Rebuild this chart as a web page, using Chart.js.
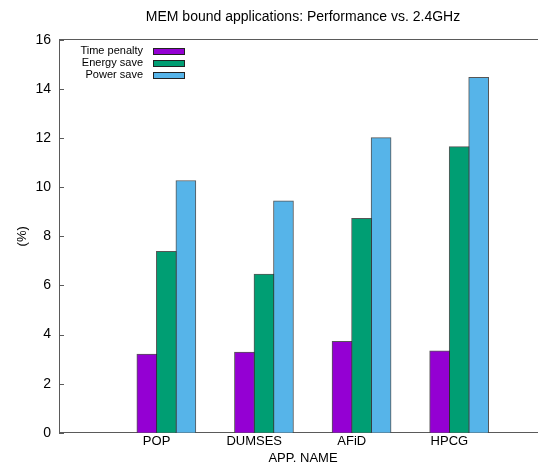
<!DOCTYPE html>
<html>
<head>
<meta charset="utf-8">
<script src="https://cdn.jsdelivr.net/npm/chart.js"></script>
<style>
html, body { margin: 0; padding: 0; background: #fff; overflow: hidden; }
#chart { display: block; }
</style>
</head>
<body>
<canvas id="chart" width="548" height="466"></canvas>
<script>
// values
const apps = ['POP', 'DUMSES', 'AFiD', 'HPCG'];
const timePenalty = [3.20, 3.29, 3.72, 3.34];
const energySave = [7.39, 6.46, 8.73, 11.65];
const powerSave = [10.27, 9.44, 12.02, 14.47];
const yTicks = [0, 2, 4, 6, 8, 10, 12, 14, 16];

const FONT = '"Liberation Sans", Arial, sans-serif';
Chart.defaults.font.family = FONT;
Chart.defaults.color = '#000';

const AXIS = '#5a5a5a';

// bar offset from the tick, in category units (gnuplot style clusters)
function series(values, offset) {
  return values.map((v, i) => ({ x: i + 1 + offset, y: v }));
}

function makeSet(label, values, offset, color) {
  return {
    label: label,
    data: series(values, offset),
    backgroundColor: color,
    borderColor: 'rgba(30,30,30,0.75)',
    borderWidth: 1,
    grouped: false,
    barThickness: 20
  };
}

// inward y tick marks + gnuplot-like key in the top left corner
const gnuplotExtras = {
  id: 'gnuplotExtras',
  afterDraw(chart) {
    const { ctx, chartArea: a, scales: { y } } = chart;
    ctx.save();
    ctx.strokeStyle = AXIS;
    ctx.lineWidth = 1;
    yTicks.forEach(v => {
      const py = Math.round(y.getPixelForValue(v)) + 0.5;
      ctx.beginPath();
      ctx.moveTo(a.left, py);
      ctx.lineTo(a.left + 5, py);
      ctx.stroke();
    });

    ctx.font = '11px ' + FONT;
    ctx.textAlign = 'right';
    ctx.textBaseline = 'middle';
    chart.data.datasets.forEach((ds, i) => {
      const cy = Math.round(a.top + 11 + i * 12.2);
      ctx.fillStyle = '#000';
      ctx.fillText(ds.label, a.left + 84, cy);
      ctx.fillStyle = ds.backgroundColor;
      ctx.fillRect(a.left + 94, cy - 3, 31, 7);
      ctx.strokeStyle = '#222';
      ctx.strokeRect(a.left + 94.5, cy - 2.5, 31, 6);
    });
    ctx.restore();
  }
};

new Chart(document.getElementById('chart'), {
  type: 'bar',
  data: {
    datasets: [
      makeSet('Time penalty', timePenalty, -0.1, '#9400d3'),
      makeSet('Energy save', energySave, 0.1, '#009e73'),
      makeSet('Power save', powerSave, 0.3, '#56b4e9')
    ]
  },
  options: {
    responsive: false,
    animation: false,
    layout: { padding: 0 },
    plugins: {
      legend: { display: false },
      title: { display: false },
      tooltip: { enabled: false }
    },
    scales: {
      x: {
        type: 'linear',
        position: 'bottom',
        min: 0,
        max: 5,
        offset: false,
        grid: { display: false, drawTicks: false },
        border: { display: true, color: AXIS, width: 1 },
        ticks: {
          stepSize: 1,
          autoSkip: false,
          maxRotation: 0,
          padding: 1,
          font: { size: 13 },
          callback: v => apps[v - 1] || ''
        },
        title: {
          display: true,
          text: 'APP. NAME',
          font: { size: 13 },
          padding: { top: 0, bottom: 0 }
        }
      },
      x2: {
        type: 'linear',
        position: 'top',
        min: 0,
        max: 5,
        offset: false,
        grid: { display: false, drawTicks: false },
        border: { display: true, color: AXIS, width: 1 },
        ticks: { display: false },
        title: {
          display: true,
          text: 'MEM bound applications: Performance vs. 2.4GHz',
          font: { size: 14 },
          padding: { top: 9, bottom: 14 }
        }
      },
      y: {
        min: 0,
        max: 16,
        grid: { display: false, drawTicks: false },
        border: { display: true, color: AXIS, width: 1 },
        ticks: {
          stepSize: 2,
          padding: 8,
          font: { size: 14 }
        },
        title: {
          display: true,
          text: '(%)',
          font: { size: 13 },
          padding: { top: 15, bottom: 0 }
        },
        afterFit: scale => { scale.width = 59; }
      }
    }
  },
  plugins: [gnuplotExtras]
});
</script>
</body>
</html>
